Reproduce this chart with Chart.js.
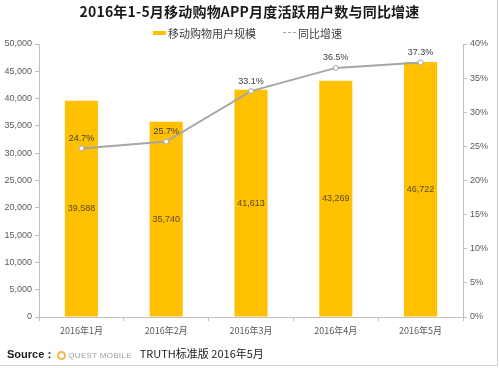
<!DOCTYPE html>
<html>
<head>
<meta charset="utf-8">
<script src="https://cdn.jsdelivr.net/npm/chart.js@4"></script>
<style>
  html, body { margin: 0; padding: 0; background: #fff; }
  #wrap { position: relative; width: 499px; height: 368px; overflow: hidden; font-family: "Noto Sans CJK SC", "Noto Sans", sans-serif; }
  #frame { position: absolute; left: 0; top: 0; width: 497px; height: 365px; border-right: 1px solid #d0d0d0; border-bottom: 1px solid #d0d0d0; }
  #title { position: absolute; left: 0; top: 2px; width: 499px; text-align: center; font-size: 14px; font-weight: bold; color: #1a1a1a; line-height: 18px; letter-spacing: 0.2px; }
  #legend { position: absolute; left: 0; top: 25px; width: 499px; height: 16px; font-size: 11px; color: #404040; }
  #legend .sw { position: absolute; top: 6px; width: 13px; height: 4px; background: #FFC000; }
  #legend .ln { position: absolute; top: 7px; width: 13px; height: 0; border-top: 1.5px dashed #a6a6a6; }
  #legend span { position: absolute; top: 0; line-height: 16px; }
  #source { position: absolute; left: 7px; top: 345px; font-size: 11px; color: #222; line-height: 16px; white-space: nowrap; }
  #source b { font-family: "Liberation Sans", Arial, sans-serif; }
  #source .logo { display: inline-block; width: 9px; height: 9px; border: 2px solid #f2b84b; border-radius: 50%; vertical-align: -2px; margin: 0 2px 0 2px; box-sizing: border-box; }
  #source .qm { font-size: 8px; color: #a0a0a0; letter-spacing: 0.3px; margin-right: 8px; font-family: "Liberation Sans", Arial, sans-serif; }
  canvas { position: absolute; left: 0; top: 0; }
</style>
</head>
<body>
<div id="wrap">
  <canvas id="chart" width="499" height="368"></canvas>
  <div id="frame"></div>
  <div id="title">2016年1-5月移动购物APP月度活跃用户数与同比增速</div>
  <div id="legend">
    <div class="sw" style="left:153px"></div><span style="left:168px">移动购物用户规模</span>
    <div class="ln" style="left:283px"></div><span style="left:298px">同比增速</span>
  </div>
  <div id="source"><b>Source：</b><span class="logo"></span><span class="qm">QUEST MOBILE</span>TRUTH标准版 2016年5月</div>
</div>
<script>
// 月份
const months = ['2016年1月', '2016年2月', '2016年3月', '2016年4月', '2016年5月'];
// 移动购物APP月度活跃用户（万）
const activeUsers = [39588, 35740, 41613, 43269, 46722];
// 同比增速
const growthRate = [0.247, 0.257, 0.331, 0.365, 0.373];

const tickColor = '#595959';
const axisColor = '#bfbfbf';

function fmtNum(v) {
    return String(v).replace(/\B(?=(\d{3})+(?!\d))/g, ',');
}

// 数值标签
const valueLabels = {
    id: 'valueLabels',
    afterDraw(chart) {
        const ctx = chart.ctx;
        const yScale = chart.scales.y;
        ctx.save();
        ctx.font = '9px "Liberation Sans", Arial, sans-serif';
        ctx.textAlign = 'center';
        ctx.textBaseline = 'middle';

        // 柱子中间的数值
        ctx.fillStyle = '#5a4a1a';
        const barMeta = chart.data.datasets.findIndex(d => d.type === 'bar');
        chart.getDatasetMeta(barMeta).data.forEach((bar, i) => {
            const mid = yScale.getPixelForValue(activeUsers[i] / 2);
            ctx.fillText(fmtNum(activeUsers[i]), bar.x, mid);
        });

        // 折线上方的百分比
        ctx.fillStyle = '#404040';
        const lineMeta = chart.data.datasets.findIndex(d => d.type === 'line');
        chart.getDatasetMeta(lineMeta).data.forEach((pt, i) => {
            ctx.fillText((growthRate[i] * 100).toFixed(1) + '%', pt.x, pt.y - 10);
        });
        ctx.restore();
    }
};

new Chart(document.getElementById('chart').getContext('2d'), {
    data: {
        labels: months,
        datasets: [
            {
                type: 'line',
                label: '同比增速',
                data: growthRate,
                yAxisID: 'y1',
                borderColor: '#a6a6a6',
                borderWidth: 2,
                pointRadius: 2.5,
                pointBackgroundColor: '#ffffff',
                pointBorderColor: '#a6a6a6',
                pointBorderWidth: 1,
                tension: 0,
                order: 0
            },
            {
                type: 'bar',
                label: '移动购物用户规模',
                data: activeUsers,
                yAxisID: 'y',
                backgroundColor: '#FFC000',
                barPercentage: 0.39,
                categoryPercentage: 1,
                order: 1
            }
        ]
    },
    options: {
        responsive: false,
        animation: false,
        layout: { padding: { top: 44, bottom: 0, left: 0, right: 0 } },
        plugins: {
            legend: { display: false },
            title: { display: false },
            tooltip: { enabled: false }
        },
        scales: {
            x: {
                offset: true,
                grid: { display: true, drawOnChartArea: false, offset: true, tickLength: 4, color: axisColor },
                border: { display: true, color: axisColor },
                ticks: { color: tickColor, font: { size: 9, family: '"Noto Sans CJK SC", sans-serif' }, padding: 4, maxRotation: 0 },
                afterFit(scale) { scale.height = 51; }
            },
            y: {
                position: 'left',
                min: 0,
                max: 50000,
                ticks: {
                    stepSize: 5000,
                    color: tickColor,
                    font: { size: 9, family: '"Liberation Sans", Arial, sans-serif' },
                    padding: 3,
                    callback: v => fmtNum(v)
                },
                grid: { display: true, drawOnChartArea: false, tickLength: 4, color: axisColor },
                border: { display: true, color: axisColor },
                afterFit(scale) { scale.width = 39; }
            },
            y1: {
                position: 'right',
                min: 0,
                max: 0.4,
                ticks: {
                    stepSize: 0.05,
                    color: tickColor,
                    font: { size: 9, family: '"Liberation Sans", Arial, sans-serif' },
                    padding: 3,
                    callback: v => Math.round(v * 100) + '%'
                },
                grid: { display: true, drawOnChartArea: false, tickLength: 4, color: axisColor },
                border: { display: true, color: axisColor },
                afterFit(scale) { scale.width = 36; }
            }
        }
    },
    plugins: [valueLabels]
});
</script>
</body>
</html>
